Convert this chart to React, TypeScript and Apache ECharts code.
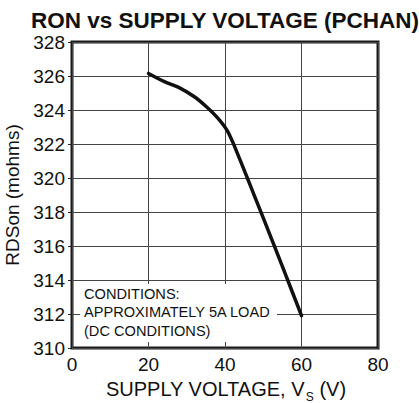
import React, { useEffect, useRef } from "react";
import * as echarts from "echarts";

const supplyVoltage = [20, 24, 28, 32, 35, 38, 40.5, 42.2, 45.7, 50, 55, 60];
const rdsOn = [326.15, 325.68, 325.32, 324.78, 324.22, 323.55, 322.82, 322.02, 320.08, 317.65, 314.8, 311.9];
const xTicks = { min: 0, max: 80, interval: 20 };
const yTicks = { min: 310, max: 328, interval: 2 };
const titleText = "RON vs SUPPLY VOLTAGE (PCHAN)";
const xNameParts = ["SUPPLY VOLTAGE, V", "S", " (V)"];
const yNameText = "RDSon (mohms)";
const conditionLines = ["CONDITIONS:", "APPROXIMATELY 5A LOAD", "(DC CONDITIONS)"];

const FONT = "'Liberation Sans', Arial, Helvetica, sans-serif";

function measure(text: string, size: number): number {
  const c = document.createElement("canvas").getContext("2d")!;
  c.font = `${size}px ${FONT}`;
  return c.measureText(text).width;
}

export default function App() {
  const ref = useRef<HTMLDivElement>(null);
  useEffect(() => {
    document.body.style.margin = "0";
    const chart = echarts.init(ref.current!, undefined, { renderer: "svg" });

    const mainSize = 20;
    const subSize = 12;
    const w1 = measure(xNameParts[0], mainSize);
    const w2 = measure(xNameParts[1], subSize) + 1;
    const w3 = measure(xNameParts[2], mainSize);
    const total = w1 + w2 + w3;
    const x0 = 226 - total / 2;
    const mainY = 389;
    const subY = 396.5;

    chart.setOption({
      animation: false,
      backgroundColor: "#ffffff",
      textStyle: { fontFamily: FONT },
      title: {
        text: titleText,
        left: 220,
        textAlign: "center",
        top: 4,
        textStyle: { fontSize: 22.5, fontWeight: "bold", color: "#111", fontFamily: FONT },
      },
      grid: {
        left: 72,
        right: 41,
        top: 42,
        bottom: 55,
        show: true,
        borderColor: "#1a1a1a",
        borderWidth: 3,
        backgroundColor: "transparent",
        containLabel: false,
        outerBoundsMode: "none",
      },
      xAxis: {
        type: "value",
        min: xTicks.min,
        max: xTicks.max,
        interval: xTicks.interval,
        axisLine: { show: false },
        axisTick: { show: false },
        axisLabel: { fontSize: 19, color: "#111", margin: 7, fontFamily: FONT },
        splitLine: { show: true, lineStyle: { color: "#444", width: 1 } },
      },
      yAxis: {
        type: "value",
        min: yTicks.min,
        max: yTicks.max,
        interval: yTicks.interval,
        axisLine: { show: false },
        axisTick: { show: true, inside: false, length: 4, lineStyle: { color: "#222", width: 1 } },
        axisLabel: { fontSize: 19, color: "#111", margin: 7, fontFamily: FONT },
        splitLine: { show: true, lineStyle: { color: "#444", width: 1 } },
        name: yNameText,
        nameLocation: "middle",
        nameGap: 41,
        nameTextStyle: { fontSize: 19, color: "#111", fontFamily: FONT },
      },
      series: [
        {
          type: "line",
          data: supplyVoltage.map((v, i) => [v, rdsOn[i]]),
          showSymbol: false,
          smooth: 0.15,
          lineStyle: { color: "#111", width: 3.5, cap: "round", join: "round" },
        },
      ],
      graphic: [
        {
          type: "rect",
          shape: { x: 80, y: 284, width: 197, height: 58 },
          style: { fill: "#ffffff" },
          z: 50,
        },
        ...conditionLines.map((t, i) => ({
          type: "text",
          x: 84,
          y: [294, 312, 331][i],
          z: 51,
          style: {
            text: t,
            fontSize: 14.6,
            fontFamily: FONT,
            fill: "#111",
            verticalAlign: "middle",
          },
        })),
        {
          type: "text",
          x: x0,
          y: mainY,
          z: 51,
          style: { text: xNameParts[0], fontSize: mainSize, fontFamily: FONT, fill: "#111", verticalAlign: "middle" },
        },
        {
          type: "text",
          x: x0 + w1 + 1,
          y: subY,
          z: 51,
          style: { text: xNameParts[1], fontSize: subSize, fontFamily: FONT, fill: "#111", verticalAlign: "middle" },
        },
        {
          type: "text",
          x: x0 + w1 + w2,
          y: mainY,
          z: 51,
          style: { text: xNameParts[2], fontSize: mainSize, fontFamily: FONT, fill: "#111", verticalAlign: "middle" },
        },
      ],
    });
    return () => chart.dispose();
  }, []);
  return <div ref={ref} style={{ width: 419, height: 403 }} />;
}
